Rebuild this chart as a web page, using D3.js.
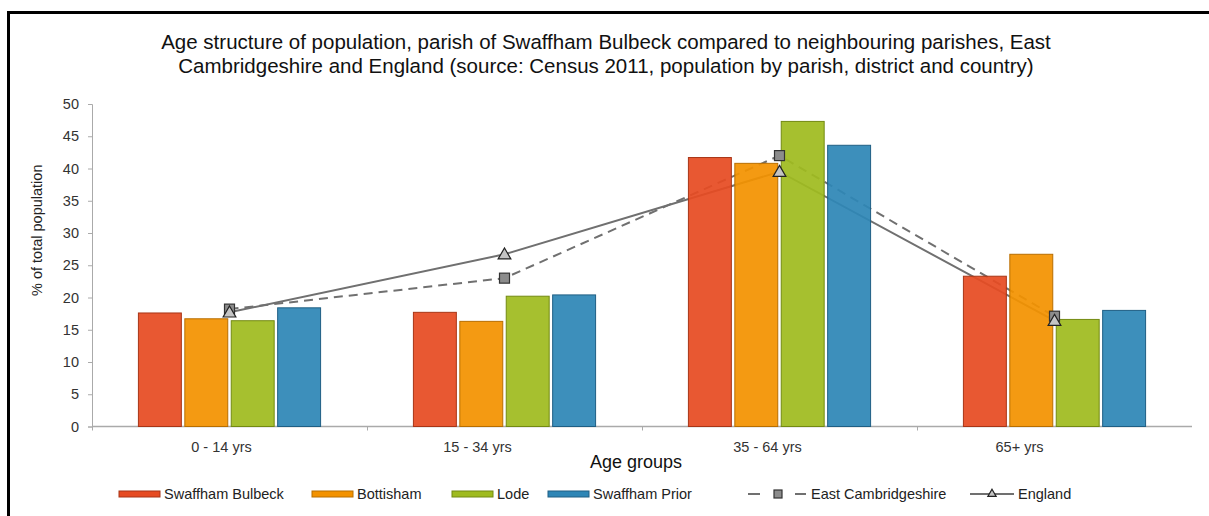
<!DOCTYPE html>
<html>
<head>
<meta charset="utf-8">
<script src="https://cdn.jsdelivr.net/npm/d3@7/dist/d3.min.js"></script>
<style>
  body { margin: 0; background: #fff; }
  svg { display: block; font-family: 'Liberation Sans', Arial, sans-serif; }
  .tick-caption { fill: #333; font-size: 14.5px; }
</style>
</head>
<body>
<div id="chart"></div>
<script>
// Data
const ageGroups = ['0 - 14 yrs', '15 - 34 yrs', '35 - 64 yrs', '65+ yrs'];
const parishNames = ['Swaffham Bulbeck', 'Bottisham', 'Lode', 'Swaffham Prior'];
const swaffhamBulbeck = [17.6, 17.7, 41.7, 23.3];
const bottisham = [16.7, 16.3, 40.8, 26.7];
const lode = [16.4, 20.2, 47.3, 16.6];
const swaffhamPrior = [18.4, 20.4, 43.6, 18.0];
const eastCambridgeshire = [18.2, 23.0, 42.0, 17.1];
const england = [17.7, 26.7, 39.5, 16.4];
const yTicks = [0, 5, 10, 15, 20, 25, 30, 35, 40, 45, 50];

const titleLines = [
  'Age structure of population, parish of Swaffham Bulbeck compared to neighbouring parishes, East',
  'Cambridgeshire and England (source: Census 2011, population by parish, district and country)',
];

const width = 1209;
const height = 516;
const plot = { left: 92, right: 1192, top: 104, bottom: 426.5 };

// category captions in the source are not quite centred under the groups
const captionShift = [-8, -27, -12, -35];

const barSeries = [swaffhamBulbeck, bottisham, lode, swaffhamPrior];
const barFill = ['#e64b22', '#f39200', '#9fbb1f', '#2e86b6'];
const barStroke = ['#a83516', '#b86e00', '#738a12', '#1f5f84'];

const svg = d3.select('#chart')
  .append('svg')
  .attr('width', width)
  .attr('height', height);

// frame (left and top edges only are visible)
svg.append('path')
  .attr('d', `M8.5,${height} V12.5 H${width}`)
  .attr('fill', 'none')
  .attr('stroke', '#000')
  .attr('stroke-width', 3);

svg.selectAll('.title')
  .data(titleLines)
  .enter()
  .append('text')
  .attr('class', 'title')
  .attr('x', 606)
  .attr('y', (d, i) => 49 + i * 24)
  .attr('text-anchor', 'middle')
  .attr('font-size', 20.5)
  .attr('fill', '#111')
  .text((d) => d);

const xScale = d3.scaleBand()
  .domain(ageGroups)
  .range([plot.left, plot.right])
  .padding(0);

const innerScale = d3.scaleBand()
  .domain(parishNames)
  .range([0, xScale.bandwidth()])
  .paddingInner(0.075)
  .paddingOuter(1);

const yScale = d3.scaleLinear()
  .domain([0, 50])
  .range([plot.bottom, plot.top]);

// y axis
const yAxis = svg.append('g')
  .attr('transform', `translate(${plot.left},0)`)
  .call(d3.axisLeft(yScale).tickValues(yTicks).tickSize(4).tickPadding(9));
yAxis.select('.domain').attr('stroke', '#aaa');
yAxis.selectAll('.tick line').attr('stroke', '#aaa');
yAxis.selectAll('.tick text')
  .attr('class', 'tick-caption')
  .attr('font-family', null)
  .attr('font-size', null);

svg.append('text')
  .attr('transform', `translate(42,${(plot.top + plot.bottom) / 2 - 35}) rotate(-90)`)
  .attr('text-anchor', 'middle')
  .attr('font-size', 14.5)
  .attr('fill', '#222')
  .text('% of total population');

// x axis: ticks between groups
const xAxisG = svg.append('g');
xAxisG.append('line')
  .attr('x1', plot.left).attr('x2', plot.right)
  .attr('y1', plot.bottom).attr('y2', plot.bottom)
  .attr('stroke', '#aaa')
  .attr('stroke-width', 1.5);
xAxisG.selectAll('.sep')
  .data(ageGroups)
  .enter()
  .append('line')
  .attr('x1', (d) => xScale(d) + 0.5)
  .attr('x2', (d) => xScale(d) + 0.5)
  .attr('y1', plot.bottom)
  .attr('y2', plot.bottom + 4)
  .attr('stroke', '#aaa');
xAxisG.selectAll('.cat')
  .data(ageGroups)
  .enter()
  .append('text')
  .attr('class', 'tick-caption')
  .attr('x', (d, i) => xScale(d) + xScale.bandwidth() / 2 + captionShift[i])
  .attr('y', 452)
  .attr('text-anchor', 'middle')
  .text((d) => d);

svg.append('text')
  .attr('x', 636)
  .attr('y', 468)
  .attr('text-anchor', 'middle')
  .attr('font-size', 18)
  .attr('fill', '#111')
  .text('Age groups');

// lines sit behind the bars
const cx = (d) => xScale(d) + xScale.bandwidth() / 2;

function drawLine(values, dash) {
  const pts = ageGroups.map((g, i) => [cx(g), yScale(values[i])]);
  svg.append('path')
    .attr('d', d3.line()(pts))
    .attr('fill', 'none')
    .attr('stroke', '#707070')
    .attr('stroke-width', 2)
    .attr('stroke-dasharray', dash);
  return pts;
}

const ecPts = drawLine(eastCambridgeshire, '9,6');
const enPts = drawLine(england, null);

barSeries.forEach((values, s) => {
  svg.selectAll(null)
    .data(ageGroups)
    .enter()
    .append('rect')
    .attr('x', (d) => xScale(d) + innerScale(parishNames[s]))
    .attr('y', (d, i) => yScale(values[i]))
    .attr('width', innerScale.bandwidth())
    .attr('height', (d, i) => plot.bottom - yScale(values[i]))
    .attr('fill', barFill[s])
    .attr('fill-opacity', 0.93)
    .attr('stroke', barStroke[s])
    .attr('stroke-width', 1);
});

function square(g, x, y, size) {
  g.append('rect')
    .attr('x', x - size / 2)
    .attr('y', y - size / 2)
    .attr('width', size)
    .attr('height', size)
    .attr('fill', '#8c8c8c')
    .attr('stroke', '#333')
    .attr('stroke-width', 1.2);
}

function tri(g, x, y, size) {
  g.append('path')
    .attr('d', d3.symbol().type(d3.symbolTriangle).size(size)())
    .attr('transform', `translate(${x},${y + 1})`)
    .attr('fill', '#c4c4c4')
    .attr('stroke', '#222')
    .attr('stroke-width', 1.2);
}

ecPts.forEach(([x, y]) => square(svg, x, y, 10));
enPts.forEach(([x, y]) => tri(svg, x, y, 70));

// legend
const legendY = 494;
const legend = svg.append('g').attr('font-size', 14.5).attr('fill', '#222');
const swatchX = [119, 312, 452, 548];

parishNames.forEach((name, i) => {
  legend.append('rect')
    .attr('x', swatchX[i])
    .attr('y', legendY - 3)
    .attr('width', 41)
    .attr('height', 6)
    .attr('fill', barFill[i])
    .attr('stroke', barStroke[i]);
  legend.append('text')
    .attr('x', swatchX[i] + 45)
    .attr('y', legendY + 5)
    .text(name);
});

legend.append('line')
  .attr('x1', 748).attr('x2', 760)
  .attr('y1', legendY).attr('y2', legendY)
  .attr('stroke', '#707070').attr('stroke-width', 2);
legend.append('line')
  .attr('x1', 795).attr('x2', 806)
  .attr('y1', legendY).attr('y2', legendY)
  .attr('stroke', '#707070').attr('stroke-width', 2);
square(legend, 778, legendY, 8);
legend.append('text').attr('x', 811).attr('y', legendY + 5).text('East Cambridgeshire');

legend.append('line')
  .attr('x1', 970).attr('x2', 1014)
  .attr('y1', legendY).attr('y2', legendY)
  .attr('stroke', '#707070').attr('stroke-width', 2);
tri(legend, 992, legendY - 1, 30);
legend.append('text').attr('x', 1018).attr('y', legendY + 5).text('England');
</script>
</body>
</html>
